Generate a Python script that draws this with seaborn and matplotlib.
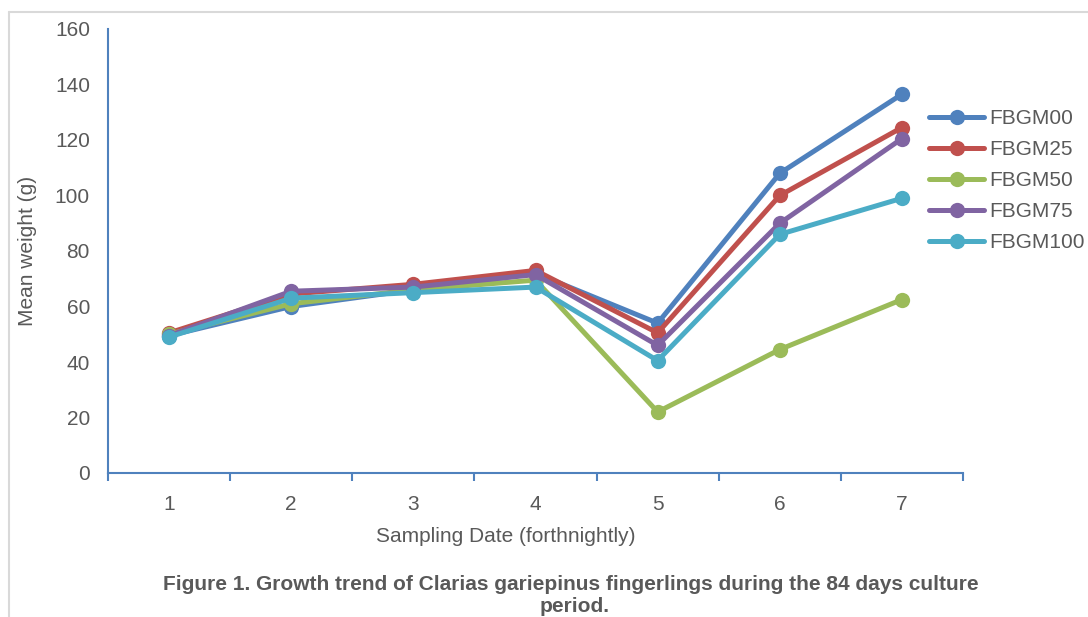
import pandas as pd
import matplotlib.pyplot as plt
import seaborn as sns
from matplotlib.lines import Line2D
from matplotlib.ticker import FixedLocator

# sampling dates (forthnightly) and mean weight (g) per diet
dates = [1, 2, 3, 4, 5, 6, 7]
fbgm00 = [49.5, 60, 66, 72, 54, 108, 136.5]
fbgm25 = [50.5, 64.5, 68, 73, 50.5, 100, 124.5]
fbgm50 = [50, 61, 66, 69.5, 22, 44.5, 62.5]
fbgm75 = [49.5, 65.5, 67, 71.5, 46, 90, 120.5]
fbgm100 = [49, 63, 65, 67, 40.5, 86, 99]

series_names = ["FBGM00", "FBGM25", "FBGM50", "FBGM75", "FBGM100"]
colors = ["#4F81BD", "#C0504D", "#9BBB59", "#8064A2", "#4BACC6"]

df = pd.DataFrame({
    "date": dates * 5,
    "weight": fbgm00 + fbgm25 + fbgm50 + fbgm75 + fbgm100,
    "diet": [n for n in series_names for _ in dates],
})

sns.set_style("white")
plt.rcParams["font.family"] = ["Liberation Sans", "DejaVu Sans"]
text_color = "#595959"
fs = 15

fig = plt.figure(figsize=(10.88, 6.17), dpi=100)
ax = fig.add_axes([108 / 1088, 1 - 473 / 617, 855 / 1088, 444 / 617])

sns.lineplot(data=df, x="date", y="weight", hue="diet", palette=colors,
             marker="o", markersize=11, markeredgewidth=0, linewidth=3.6,
             ax=ax, legend=False)

ax.set_xlim(0.5, 7.5)
ax.set_ylim(0, 160)
ax.set_yticks(range(0, 161, 20))
ax.set_xticks(dates)
ax.xaxis.set_minor_locator(FixedLocator([x + 0.5 for x in range(0, 8)]))
ax.tick_params(axis="x", which="major", length=0, pad=16, labelsize=fs, labelcolor=text_color)
ax.tick_params(axis="x", which="minor", length=6, width=1.5, color="#4F81BD", direction="out", bottom=True)
ax.tick_params(axis="y", length=0, pad=13, labelsize=fs, labelcolor=text_color)

for side in ["top", "right"]:
    ax.spines[side].set_visible(False)
for side in ["left", "bottom"]:
    ax.spines[side].set_color("#4F81BD")
    ax.spines[side].set_linewidth(1.5)

ax.set_xlabel("Sampling Date (forthnightly)", fontsize=fs, color=text_color, va="center")
ax.set_ylabel("Mean weight (g)", fontsize=fs, color=text_color, va="center")
ax.xaxis.set_label_coords((506 - 108) / 855, (473 - 536) / 444)
ax.yaxis.set_label_coords((28 - 108) / 855, 0.5)

handles = [Line2D([0], [0], color=c, lw=3.6, marker="o", markersize=11, markeredgewidth=0)
           for c in colors]
leg = fig.legend(handles, series_names, loc="upper left",
                 bbox_to_anchor=(929 / 1088, 1 - 109 / 617), bbox_transform=fig.transFigure,
                 frameon=False, fontsize=fs, handlelength=2.64, handletextpad=0.24,
                 labelspacing=0.58, borderpad=0, borderaxespad=0)
for t in leg.get_texts():
    t.set_color(text_color)

fig.text(571 / 1088, 1 - 584 / 617,
         "Figure 1. Growth trend of Clarias gariepinus fingerlings during the 84 days culture",
         ha="center", va="center", fontsize=fs, fontweight="bold", color=text_color)
fig.text(575 / 1088, 1 - 606 / 617, "period.",
         ha="center", va="center", fontsize=fs, fontweight="bold", color=text_color)

# light grey chart-area border
fig.add_artist(Line2D([8.5 / 1088, 8.5 / 1088], [0, 1 - 12 / 617], color="#D9D9D9", lw=1.5))
fig.add_artist(Line2D([8.5 / 1088, 1], [1 - 12 / 617, 1 - 12 / 617], color="#D9D9D9", lw=1.5))

fig.savefig("out.png", dpi=100)
